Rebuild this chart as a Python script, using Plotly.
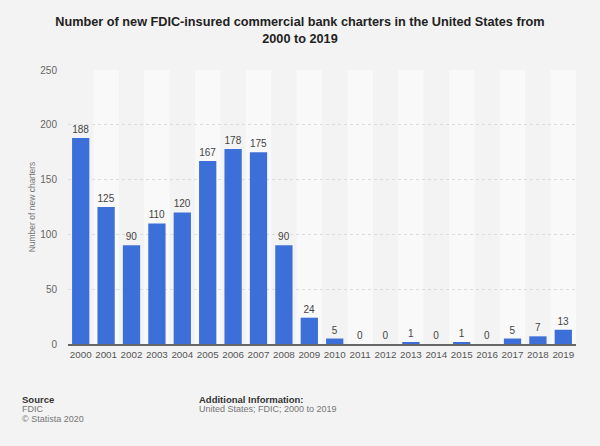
import plotly.graph_objects as go

years = [str(y) for y in range(2000, 2020)]
charters = [188, 125, 90, 110, 120, 167, 178, 175, 90, 24, 5, 0, 0, 1, 0, 1, 0, 5, 7, 13]
y_ticks = [0, 50, 100, 150, 200, 250]

font = "Liberation Sans, Arial, sans-serif"
W, H = 600, 446
L, R, T, B = 68, 24, 70, 102

fig = go.Figure()
fig.add_trace(go.Bar(
    x=years, y=charters,
    marker=dict(color="#3d6fd9", line=dict(width=0)),
    text=[str(v) for v in charters],
    textposition="outside",
    textfont=dict(family=font, size=10, color="#444"),
    cliponaxis=False,
    width=0.68,
))

# alternating column bands
shapes = []
for i in range(len(years)):
    if i % 2 == 1:
        shapes.append(dict(type="rect", xref="x", yref="paper", layer="below",
                           x0=i - 0.5, x1=i + 0.5, y0=0, y1=1,
                           fillcolor="#f9f9f9", line=dict(width=0)))

fig.update_layout(
    width=W, height=H,
    margin=dict(l=L, r=R, t=T, b=B),
    paper_bgcolor="#f3f3f3", plot_bgcolor="rgba(0,0,0,0)",
    showlegend=False,
    shapes=shapes,
    title=dict(
        text="<b>Number of new FDIC-insured commercial bank charters in the United States from<br>2000 to 2019</b>",
        x=0.5, xanchor="center", y=1 - 26 / H, yanchor="top",
        font=dict(family=font, size=12.7, color="#222"),
    ),
    xaxis=dict(
        type="category", tickfont=dict(family=font, size=9.8, color="#555"),
        tickangle=0, automargin=False,
        showgrid=False, showline=True, linecolor="#666", linewidth=1.5,
        ticks="", range=[-0.5, len(years) - 0.5],
    ),
    yaxis=dict(
        range=[0, 250], tickvals=y_ticks, automargin=False,
        tickfont=dict(family=font, size=10, color="#666"),
        gridcolor="#dcdcdc", griddash="dot", zeroline=False,
        ticklabelstandoff=10,
        title=dict(text="Number of new charters", font=dict(family=font, size=8.5, color="#777"), standoff=3),
    ),
)

# footer annotations placed by pixel position
def px_x(px):
    return (px - L) / (W - L - R)

def px_y(py):
    return (H - B - py) / (H - T - B)

footer = [
    ("<b>Source</b>", 20, 399, "#333", 9.5),
    ("FDIC", 20, 409, "#777", 9),
    ("© Statista 2020", 20, 419, "#777", 9),
    ("<b>Additional Information:</b>", 197, 399, "#333", 9.5),
    ("United States; FDIC; 2000 to 2019", 197, 409, "#777", 9),
]
fig.layout.annotations = [
    dict(text=t, x=px_x(xp), y=px_y(yp), xref="paper", yref="paper",
         xanchor="left", yanchor="middle", showarrow=False,
         font=dict(family=font, size=s, color=c))
    for t, xp, yp, c, s in footer
]

fig.write_html("out.html", config={"displayModeBar": False},
               post_script="document.body.style.margin='0';")
